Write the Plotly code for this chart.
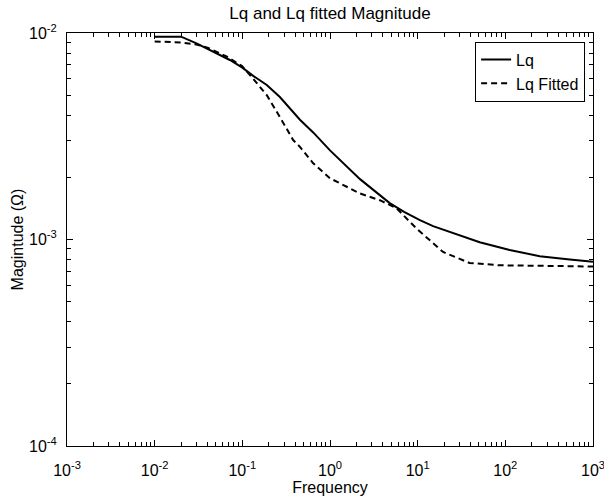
import plotly.graph_objects as go

# ---- data ----
freq_lq = [0.01, 0.02, 0.03, 0.039, 0.072, 0.1, 0.133, 0.19, 0.268, 0.454, 0.643,
           1.0, 1.41, 2.2, 3.7, 4.8, 7.0, 10.6, 15.0, 23.3, 33, 51, 112, 247, 543, 1000]
mag_lq = [0.0096, 0.0096, 0.0089, 0.0084, 0.0074, 0.0068, 0.0062, 0.0056, 0.0049,
          0.0038, 0.0033, 0.0027, 0.00234, 0.00196, 0.00164, 0.00150, 0.00136,
          0.00124, 0.00116, 0.00109, 0.00103, 0.00097, 0.00089, 0.00083, 0.00080, 0.00078]

freq_fit = [0.01, 0.02, 0.03, 0.04, 0.066, 0.1, 0.133, 0.19, 0.27, 0.38, 0.454,
            0.643, 1.0, 1.5, 2.2, 3.7, 5.7, 9.7, 19.5, 39, 86, 1000]
mag_fit = [0.0091, 0.0090, 0.0088, 0.0085, 0.0077, 0.0069, 0.0060, 0.0050, 0.0039,
           0.00303, 0.00281, 0.00234, 0.00198, 0.00182, 0.00167, 0.00155, 0.00142,
           0.00113, 0.00087, 0.00077, 0.00075, 0.00074]

x_ticks = [1e-3, 1e-2, 1e-1, 1e0, 1e1, 1e2, 1e3]
x_ticktext = ["10<sup>-3</sup>", "10<sup>-2</sup>", "10<sup>-1</sup>", "10<sup>0</sup>",
              "10<sup>1</sup>", "10<sup>2</sup>", "10<sup>3</sup>"]
y_ticks = [1e-4, 1e-3, 1e-2]
y_ticktext = ["10<sup>-4</sup>", "10<sup>-3</sup>", "10<sup>-2</sup>"]

x_minor = [k * 10 ** e for e in range(-3, 3) for k in range(2, 10)]
y_minor = [k * 10 ** e for e in range(-4, -2) for k in range(2, 10)]

FONT = "Liberation Sans, Arial, sans-serif"

fig = go.Figure()
fig.add_trace(go.Scatter(x=freq_lq, y=mag_lq, mode="lines", name="Lq",
                         line=dict(color="black", width=2)))
fig.add_trace(go.Scatter(x=freq_fit, y=mag_fit, mode="lines", name="Lq Fitted",
                         line=dict(color="black", width=2, dash="6px,4px")))

axis_common = dict(
    showgrid=False, zeroline=False, showline=True, linecolor="black", linewidth=1,
    mirror="allticks", ticks="inside", ticklen=6, tickwidth=1, tickcolor="black",
    ticklabeloverflow="allow",
    tickfont=dict(family=FONT, size=16, color="black"),
)

fig.update_xaxes(type="log", range=[-3, 3], tickmode="array", tickvals=x_ticks,
                 ticktext=x_ticktext, ticklabelstandoff=10,
                 minor=dict(ticks="inside", ticklen=4, tickwidth=1, tickcolor="black",
                            tickmode="array", tickvals=x_minor, showgrid=False),
                 title=dict(text="Frequency", font=dict(family=FONT, size=16, color="black"),
                            standoff=3),
                 **axis_common)
fig.update_yaxes(type="log", range=[-4, -2], tickmode="array", tickvals=y_ticks,
                 ticktext=y_ticktext, ticklabelstandoff=6,
                 minor=dict(ticks="inside", ticklen=4, tickwidth=1, tickcolor="black",
                            tickmode="array", tickvals=y_minor, showgrid=False),
                 title=dict(text="Magintude (Ω)", font=dict(family=FONT, size=16, color="black"),
                            standoff=1),
                 **axis_common)

fig.update_layout(
    width=604, height=502,
    margin=dict(l=67, r=11, t=33, b=56, autoexpand=False),
    paper_bgcolor="white", plot_bgcolor="white",
    title=dict(text="Lq and Lq fitted Magnitude", x=(67 + 593) / 2 / 604, xanchor="center",
               y=1 - 13 / 502, yanchor="middle",
               font=dict(family=FONT, size=17, color="black")),
    showlegend=True,
    legend=dict(x=0.985, y=0.979, xanchor="right", yanchor="top",
                bgcolor="white", bordercolor="black", borderwidth=1,
                font=dict(family=FONT, size=16, color="black"),
                itemwidth=30, tracegroupgap=0),
)

fig.write_html("out.html")
